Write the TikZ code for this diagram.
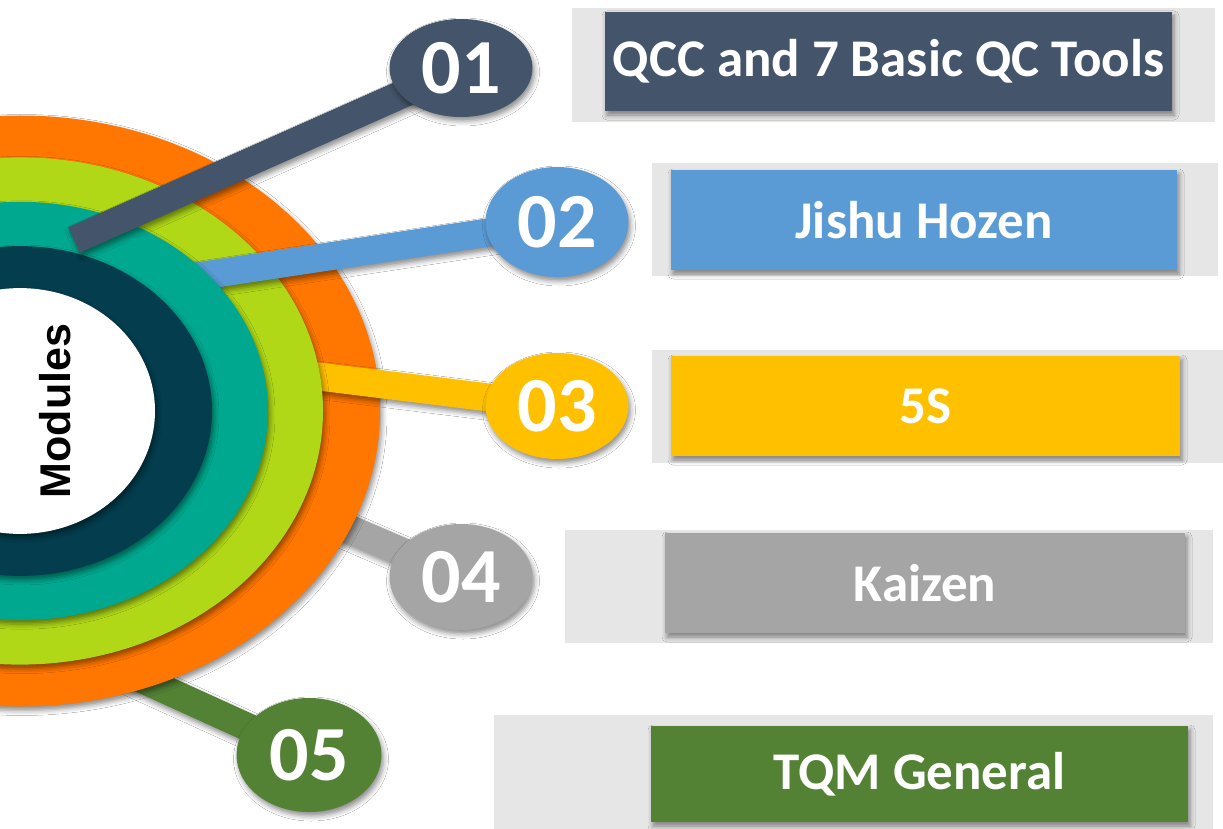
\documentclass[tikz,border=0pt]{standalone}
\usepackage{fontspec}
\newfontfamily\carl{Carlito}
\newfontfamily\arialf{Liberation Sans}
\usetikzlibrary{shapes.geometric,shadows.blur,calc}
\definecolor{cOne}{HTML}{44546A}
\definecolor{cTwo}{HTML}{5B9BD5}
\definecolor{cThree}{HTML}{FFC000}
\definecolor{cFour}{HTML}{A5A5A5}
\definecolor{cFive}{HTML}{548235}
\definecolor{bgGray}{HTML}{E6E6E6}
\definecolor{ringOrange}{HTML}{FF7600}
\definecolor{ringLime}{HTML}{B0D817}
\definecolor{ringTeal}{HTML}{00A88F}
\definecolor{ringDark}{HTML}{033D4E}
\newcommand\drawbar[3]{%
  \fill[#1, softshadow] ($(#2)!14pt!90:(#3)$) -- ($(#3)!14pt!-90:(#2)$) -- ($(#3)!14pt!90:(#2)$) -- ($(#2)!14pt!-90:(#3)$) -- cycle;}
\begin{document}
\begin{tikzpicture}[x=1pt,y=-1pt,
  softshadow/.style={blur shadow={shadow xshift=2pt,shadow yshift=-4pt,shadow blur radius=5pt,shadow opacity=45}},
  numnode/.style={ellipse, inner sep=0pt, minimum width=143pt, minimum height=106pt, text=white,
    font=\carl\bfseries\fontsize{78}{80}\selectfont, softshadow},
  labelbox/.style={rectangle, inner sep=0pt, text=white,
    font=\carl\bfseries\fontsize{53}{56}\selectfont, softshadow},
  bgbox/.style={fill=bgGray},
]
\useasboundingbox (0,0) rectangle (1223,829);
\fill[white] (0,0) rectangle (1223,829);

% background strips
\fill[bgbox] (572,8) rectangle (1215,122);
\fill[bgbox] (652,163) rectangle (1218,276);
\fill[bgbox] (652,350) rectangle (1223,463);
\fill[bgbox] (565,530) rectangle (1213,643);
\fill[bgbox] (494,715) rectangle (1213,829);

% anchor points
\coordinate (p1) at (461,68);
\coordinate (p2) at (557,222);
\coordinate (p3) at (557,406);
\coordinate (p4) at (461,577);
\coordinate (p5) at (309,755);
\coordinate (s1) at (74,240);
\coordinate (s2) at (120,288);
\coordinate (s3) at (250,368);
\coordinate (s4) at (250,486);
\coordinate (s5) at (100,660);

% bars under the outer ring
\drawbar{cFour}{s4}{p4}
\drawbar{cFive}{s5}{p5}

% rings
\fill[ringOrange, softshadow] (20,411) ellipse [x radius=360, y radius=295.5];
\drawbar{cThree}{s3}{p3}
\fill[ringLime, softshadow] (20,411) ellipse [x radius=303, y radius=253.6];
\drawbar{cTwo}{s2}{p2}
\fill[ringTeal, softshadow] (20,411) ellipse [x radius=248, y radius=209.2];
\fill[ringDark, softshadow] (20,411) ellipse [x radius=192, y radius=164.9];
\fill[white, softshadow] (20,411) ellipse [x radius=135, y radius=122.9];

\node[rotate=90, font=\arialf\bfseries\fontsize{43}{45}\selectfont] (mod) at (55,411) {Modules};

\drawbar{cOne}{s1}{p1}

% number ellipses
\node[numnode, fill=cOne, minimum height=98pt] (n1) at (p1) {01};
\node[numnode, fill=cTwo, minimum height=110pt] (n2) at (p2) {02};
\node[numnode, fill=cThree] (n3) at (p3) {03};
\node[numnode, fill=cFour] (n4) at (p4) {04};
\node[numnode, fill=cFive, minimum width=145pt, minimum height=114pt] (n5) at (p5) {05};

% label boxes
\node[labelbox, fill=cOne, minimum width=567pt, minimum height=99pt] (b1) at (888.5,61.5) {QCC and 7 Basic QC Tools};
\node[labelbox, fill=cTwo, minimum width=506pt, minimum height=100pt] (b2) at (924,220) {Jishu Hozen};
\node[labelbox, fill=cThree, minimum width=509pt, minimum height=100pt] (b3) at (925.5,406) {5S};
\node[labelbox, fill=cFour, minimum width=520pt, minimum height=100pt] (b4) at (925,583) {Kaizen};
\node[labelbox, fill=cFive, minimum width=537pt, minimum height=96pt] (b5) at (919.5,774) {TQM General};
\end{tikzpicture}
\end{document}
